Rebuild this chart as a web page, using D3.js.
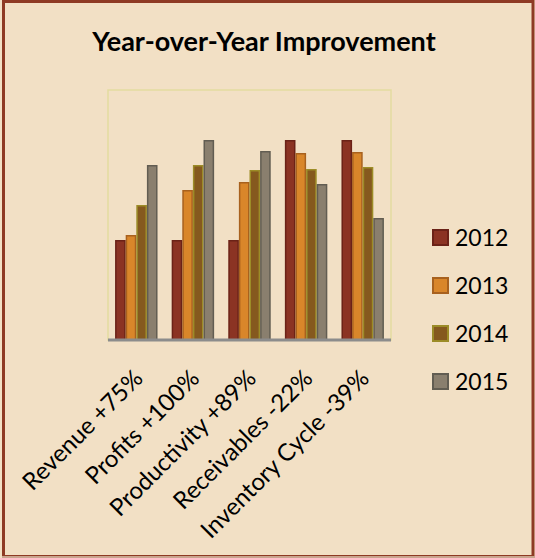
<!DOCTYPE html>
<html>
<head>
<meta charset="utf-8">
<script src="https://cdn.jsdelivr.net/npm/d3@7"></script>
<style>
  body { margin: 0; background: #F2E0C5; }
</style>
</head>
<body>
<div id="chart"></div>
<script>
// Data
const categories = ["Revenue +75%", "Profits +100%", "Productivity +89%", "Receivables -22%", "Inventory Cycle -39%"];
const years = ["2012", "2013", "2014", "2015"];
const values2012 = [100, 100, 100, 200, 200];
const values2013 = [105, 150, 158, 187, 188];
const values2014 = [135, 175, 170, 171, 173];
const values2015 = [175, 200, 189, 156, 122];
const seriesValues = [values2012, values2013, values2014, values2015];

const fills = ["#8B3323", "#D9862A", "#85591E", "#8A7F6E"];
const strokes = ["#6B2217", "#A8611E", "#9C8C27", "#625D52"];

const width = 535, height = 558;
const plot = { left: 108, right: 391, top: 90, bottom: 340 };

const svg = d3.select("#chart").append("svg")
    .attr("width", width)
    .attr("height", height);

// background + frame
svg.append("rect")
    .attr("x", 0).attr("y", 0).attr("width", width).attr("height", height)
    .attr("fill", "#F2E0C5");
svg.append("rect")
    .attr("x", 3.5).attr("y", 1.5).attr("width", 529.5).attr("height", 555)
    .attr("fill", "none")
    .attr("stroke", "#8E3A24")
    .attr("stroke-width", 3);
svg.append("line")
    .attr("x1", 2).attr("x2", 535).attr("y1", 557).attr("y2", 557)
    .attr("stroke", "#C9A48E").attr("stroke-width", 2);

// Title
svg.append("text")
    .attr("x", 264)
    .attr("y", 51)
    .attr("text-anchor", "middle")
    .style("font-family", "Lato")
    .style("font-weight", "bold")
    .style("font-size", "27px")
    .text("Year-over-Year Improvement");

// Scales
const x = d3.scaleBand()
    .domain(categories)
    .range([plot.left, plot.right])
    .paddingInner(0.25)
    .paddingOuter(0.125);

const xInner = d3.scaleBand()
    .domain(years)
    .range([0, x.bandwidth()]);

const y = d3.scaleLinear()
    .domain([0, 250])
    .range([plot.bottom, plot.top]);

// plot area border
svg.append("rect")
    .attr("x", plot.left).attr("y", plot.top)
    .attr("width", plot.right - plot.left).attr("height", plot.bottom - plot.top)
    .attr("fill", "none")
    .attr("stroke", "#E3DBA0")
    .attr("stroke-width", 1.5);

// Bars
const rows = [];
categories.forEach((c, i) => {
    years.forEach((yr, j) => {
        rows.push({ cat: c, year: yr, j: j, value: seriesValues[j][i] });
    });
});

svg.append("g").selectAll("rect")
    .data(rows)
    .join("rect")
    .attr("x", d => x(d.cat) + xInner(d.year) + 0.75)
    .attr("y", d => y(d.value) + 0.75)
    .attr("width", xInner.bandwidth() - 1.5)
    .attr("height", d => y(0) - y(d.value) - 0.75)
    .attr("fill", d => fills[d.j])
    .attr("stroke", d => strokes[d.j])
    .attr("stroke-width", 1.5);

// X axis
const xAxis = svg.append("g")
    .attr("transform", `translate(0,${plot.bottom})`)
    .call(d3.axisBottom(x).tickSize(0).tickPadding(0));
xAxis.select(".domain")
    .attr("stroke", "#8C8C8C")
    .attr("stroke-width", 3)
    .attr("d", `M${plot.left},0H${plot.right}`);
xAxis.selectAll(".tick text")
    .attr("text-anchor", "end")
    .attr("transform", "translate(8,40) rotate(-45)")
    .attr("dy", "0")
    .attr("y", 0)
    .style("font-family", "Lato")
    .style("font-size", "24px")
    .attr("fill", "#000");

// Legend
const legend = svg.append("g").selectAll("g")
    .data(years)
    .join("g")
    .attr("transform", (d, i) => `translate(433,${230 + i * 48})`);
legend.append("rect")
    .attr("width", 15).attr("height", 15)
    .attr("fill", (d, i) => fills[i])
    .attr("stroke", (d, i) => strokes[i])
    .attr("stroke-width", 2);
legend.append("text")
    .attr("x", 22)
    .attr("y", 16)
    .style("font-family", "Lato")
    .style("font-size", "23px")
    .text(d => d);
</script>
</body>
</html>
